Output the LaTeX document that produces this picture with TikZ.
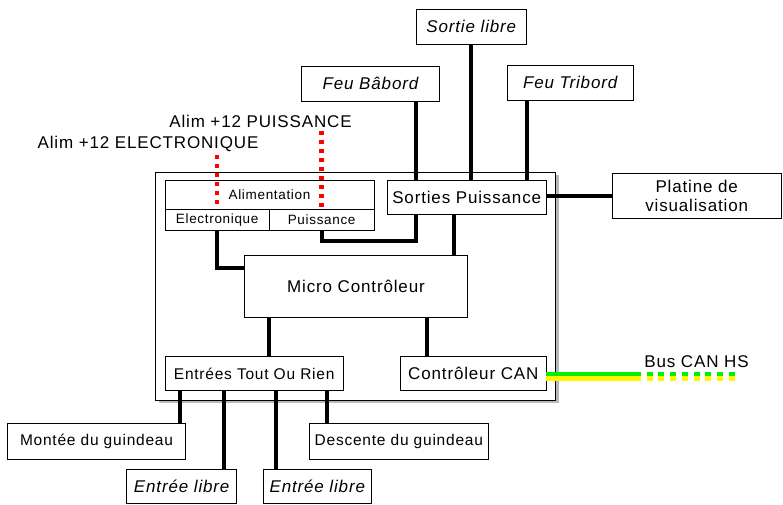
\documentclass[tikz,border=0pt]{standalone}
\usepackage{fontspec}
\setmainfont{Liberation Sans}[LetterSpace=5]
\usetikzlibrary{shadows}
\definecolor{vertbus}{RGB}{0,240,0}
\definecolor{jaunebus}{RGB}{255,245,0}
\tikzset{
  boite/.style={draw, line width=0.8pt, fill=white, inner sep=0pt},
  grand/.style={font=\fontsize{17}{19.5}\selectfont},
  moyen/.style={font=\fontsize{15.5}{18}\selectfont},
  petit/.style={font=\fontsize{13.5}{15}\selectfont},
  italique/.style={font=\fontsize{17}{19.5}\selectfont\itshape},
  fil/.style={line width=4pt},
  alim/.style={red, line width=4.5pt, dash pattern=on 4pt off 5pt},
  bus/.style={line width=4.2pt}
}
\begin{document}
\begin{tikzpicture}[x=1pt,y=-1pt]
      \useasboundingbox (0,0) rectangle (783,504);
      \node[boite, minimum width=400pt, minimum height=228pt,
        drop shadow={shadow xshift=3pt, shadow yshift=-3pt, fill=gray!55, opacity=1}]
        (carte) at (355.5,286) {};
      \node[boite, petit, minimum width=209pt, minimum height=29.3pt] (alimentation) at (269.5,194.7) {Alimentation};
      \node[boite, petit, minimum width=104.3pt, minimum height=21.4pt] (elec) at (217.2,220) {Electronique};
      \node[boite, petit, minimum width=104.7pt, minimum height=21.4pt] (puis) at (321.65,220) {Puissance};
      \node[boite, grand, minimum width=158.7pt, minimum height=34.3pt] (sorties) at (466.7,197.2) {Sorties Puissance};
      \node[boite, grand, minimum width=223.4pt, minimum height=62.7pt] (micro) at (356,286.3) {Micro Contrôleur};
      \node[boite, moyen, minimum width=178.3pt, minimum height=34pt] (tor) at (254.2,373.7) {Entrées Tout Ou Rien};
      \node[boite, grand, minimum width=145.3pt, minimum height=34.7pt] (can) at (473.3,373.3) {Contrôleur CAN};
      \node[boite, italique, minimum width=110.7pt, minimum height=35pt] (sortie) at (471.3,26.8) {Sortie libre};
      \node[boite, italique, minimum width=137.6pt, minimum height=35pt] (babord) at (370.5,83.5) {Feu Bâbord};
      \node[boite, italique, minimum width=126.3pt, minimum height=34.7pt] (tribord) at (570.2,82.7) {Feu Tribord};
      \node[boite, grand, align=center, minimum width=168.7pt, minimum height=45.3pt] (platine) at (696.7,195.7) {Platine de\\visualisation};
      \node[boite, moyen, minimum width=178.4pt, minimum height=35.7pt] (montee) at (96.5,441.2) {Montée du guindeau};
      \node[boite, italique, minimum width=110pt, minimum height=34pt] (libre1) at (181.7,486.3) {Entrée libre};
      \node[boite, italique, minimum width=107.3pt, minimum height=34pt] (libre2) at (317.3,486.3) {Entrée libre};
      \node[boite, moyen, minimum width=179pt, minimum height=35.7pt] (descente) at (398.8,441.2) {Descente du guindeau};
      \node[grand] (alimelec) at (148,144) {Alim +12 ELECTRONIQUE};
      \node[grand] (alimpuis) at (260.5,121.7) {Alim +12 PUISSANCE};
      \node[grand] (canhs) at (696.5,361.7) {Bus CAN HS};
      \coordinate (busmi) at (635,0);
      \coordinate (busfin) at (737,0);
      \begin{scope}[fil]
        \draw (sortie.south) -- (sortie.south |- sorties.north);
        \draw (415.7,0 |- babord.south) -- (415.7,0 |- sorties.north);
        \draw (527.3,0 |- tribord.south) -- (527.3,0 |- sorties.north);
        \draw (sorties.east |- platine.west) -- (platine.west);
        \draw (elec.south) |- (micro.west |- 0,268.3);
        \draw (puis.south) -- ++(0,10) -| (415.7,0 |- sorties.south);
        \draw (454.3,0 |- sorties.south) -- (454.3,0 |- micro.north);
        \draw (268.7,0 |- micro.south) -- (268.7,0 |- tor.north);
        \draw (426.7,0 |- micro.south) -- (426.7,0 |- can.north);
        \draw (180,0 |- tor.south) -- (180,0 |- montee.north);
        \draw (224,0 |- tor.south) -- (224,0 |- libre1.north);
        \draw (276,0 |- tor.south) -- (276,0 |- libre2.north);
        \draw (326.7,0 |- tor.south) -- (326.7,0 |- descente.north);
      \end{scope}
      \draw[alim] (elec.north |- alimelec.south) -- ([yshift=2pt]elec.north);
      \draw[alim] (puis.north |- alimpuis.south) -- ([yshift=2pt]puis.north);
      \begin{scope}[bus]
        \draw[vertbus, transform canvas={yshift=-1pt}] (can.east) -- (can.east -| busmi);
        \draw[jaunebus, transform canvas={yshift=-5.2pt}] (can.east) -- (can.east -| busmi);
        \draw[vertbus, dash pattern=on 6pt off 5.7pt, transform canvas={yshift=-1pt}] (can.east -| busmi) -- (can.east -| busfin);
        \draw[jaunebus, dash pattern=on 6pt off 5.7pt, transform canvas={yshift=-5.2pt}] (can.east -| busmi) -- (can.east -| busfin);
      \end{scope}
    \end{tikzpicture}
\end{document}
